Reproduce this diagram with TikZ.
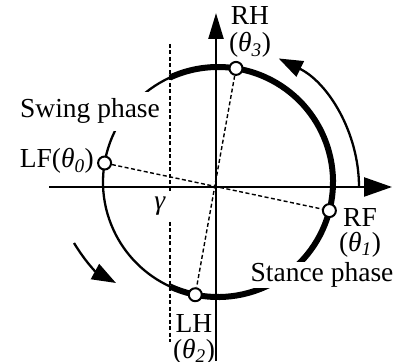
\documentclass[tikz,border=0pt]{standalone}
\usepackage{fontspec}
\setmainfont{Liberation Serif}
\usetikzlibrary{arrows.meta,positioning,calc}

\begin{document}
\begin{tikzpicture}[x=1pt,y=1pt,
 txt/.style={font=\fontsize{27.5}{30}\selectfont,inner sep=0pt},
 two/.style={txt,align=center,font=\fontsize{27.5}{#1}\selectfont},
 joint/.style={draw,circle,fill=white,line width=2pt,minimum size=13pt,inner sep=0pt},
 axis/.style={line width=2.4pt},
 dsh/.style={line width=1.4pt,dash pattern=on 4pt off 2.5pt},
 thn/.style={line width=2.3pt},
 thk/.style={line width=6pt},
 tri/.style={-{Triangle[length=24pt,width=17pt]}}]
\useasboundingbox (0,0) rectangle (403,361);
\coordinate (O) at (216,174);
\coordinate (C) at (218,179);
% leg cycle
\draw[thn] ($(C)+(114.7:115)$) arc[start angle=114.7,end angle=245.3,radius=115];
\draw[thk] ($(C)+(245.3:115)$) arc[start angle=245.3,end angle=474.7,radius=115];
% gamma line
\coordinate (g1) at (170,317); \coordinate (g2) at (170,170);
\coordinate (g3) at (170,139); \coordinate (g4) at (170,19);
\draw[dsh] (g1)--(g2); \draw[dsh] (g3)--(g4);
% axes
\coordinate (ybot) at (216,0); \coordinate (ytop) at (216,348);
\coordinate (xlft) at (49,174); \coordinate (xrgt) at (392,174);
\draw[axis,-{Triangle[length=26pt,width=15pt]}] (ybot)--(ytop);
\draw[axis,-{Triangle[length=28pt,width=19pt]}] (xlft)--(xrgt);
% direction arrows
\coordinate (ar1) at (359,174);
\draw[thn,tri] (ar1) arc[start angle=0,end angle=64,radius=143];
\coordinate (al1) at (74,118); \coordinate (al2) at (116,78);
\draw[thn,tri] (al1) to[bend right=15] (al2);
% phase labels
\node[txt,fill=white,inner ysep=0.5pt,inner xsep=1pt,anchor=base] (stance) at (322,79.5) {Stance phase};
\node[txt,fill=white,inner ysep=7pt,inner xsep=1pt,anchor=base] (swing) at (90,243) {Swing phase};
\node[txt,anchor=base] (gam) at (160,151) {\textit{γ}};
% feet
\node[joint] (lf) at ($(C)+(170.5:115)$) {};
\node[joint] (rf) at ($(C)+(-14.4:115)$) {};
\node[joint] (lh) at ($(C)+(258.6:115)$) {};
\node[joint] (rh) at ($(C)+(81:115)$) {};
\draw[dsh] (lf)--(rf);
\draw[dsh] (rh)--(lh);
\node[txt,anchor=base east] (lfl) at (94,193) {LF(\textit{θ}\textsubscript{\textit{0}})};
\node[two=25,anchor=base] (rfl) at (360,109.5) {RF\\(\textit{θ}\textsubscript{\textit{1}})};
\node[two=26,anchor=base] (lhl) at (194,3) {LH\\(\textit{θ}\textsubscript{\textit{2}})};
\node[two=27,anchor=base] (rhl) at (250,309) {RH\\(\textit{θ}\textsubscript{\textit{3}})};
\end{tikzpicture}
\end{document}
